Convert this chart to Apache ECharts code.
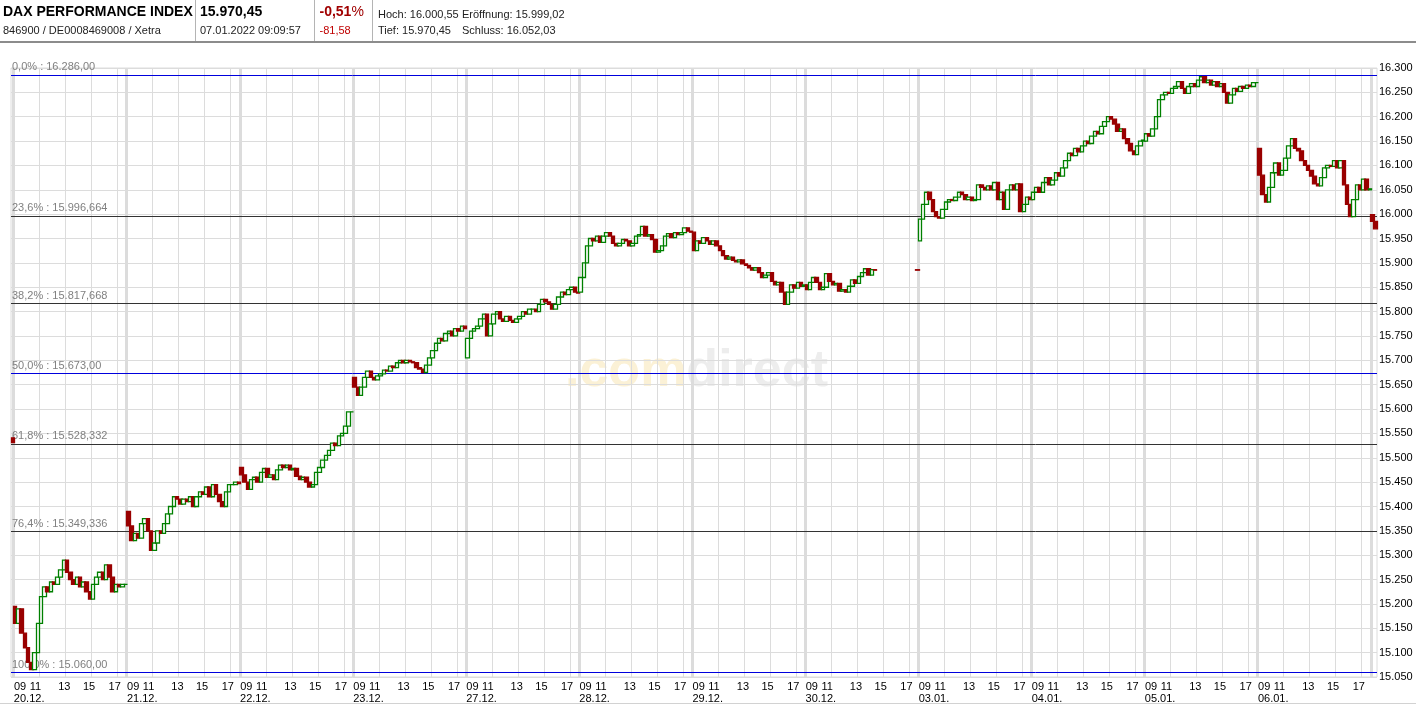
<!DOCTYPE html>
<html><head><meta charset="utf-8">
<script src="https://cdn.jsdelivr.net/npm/echarts@6/dist/echarts.min.js"></script>
<style>html,body{margin:0;padding:0;background:#fff}#c{width:1416px;height:705px}</style>
</head><body><div id="c"></div>
<script>
// ---------- data ----------
const dayLabels = ['20.12.','21.12.','22.12.','23.12.','27.12.','28.12.','29.12.','30.12.','03.01.','04.01.','05.01.','06.01.','07.01.'];
const hourLabels = ['09','11','13','15','17'];
const hourGrid = [2, 4, 6, 8];            // hours after 09:00 with a grid line
const yMin = 15050, yMax = 16300, yStep = 50;

// opening value of the first 15-minute candle of each day
const dayOpens = [15195,15390,15480,15665,15705,15840,15963,15855,15945,16030,16150,16135,15999];
// closes of consecutive 15-minute candles, from 09:00
const closes_20_12 = [15160,15190,15140,15110,15080,15065,15100,15160,15215,15235,15225,15245,15240,15255,15270,15290,15265,15250,15240,15255,15235,15245,15225,15210,15240,15255,15265,15250,15280,15255,15225,15240,15235,15240,15240];
const closes_21_12 = [15360,15330,15345,15335,15365,15375,15350,15310,15325,15350,15345,15365,15385,15400,15420,15415,15405,15415,15410,15420,15400,15420,15430,15425,15440,15420,15445,15425,15410,15400,15430,15445,15445,15450,15447];
const closes_22_12 = [15465,15450,15435,15455,15460,15450,15470,15478,15460,15465,15455,15475,15485,15480,15485,15475,15478,15462,15455,15460,15450,15440,15445,15470,15480,15495,15505,15515,15530,15525,15545,15550,15565,15594,15594];
const closes_23_12 = [15645,15628,15645,15665,15678,15665,15660,15668,15672,15680,15678,15688,15685,15695,15700,15695,15700,15697,15695,15685,15682,15675,15690,15705,15720,15735,15745,15740,15755,15760,15750,15765,15760,15770,15765];
const closes_27_12 = [15745,15760,15765,15770,15785,15795,15750,15775,15795,15800,15785,15780,15790,15782,15778,15785,15790,15800,15795,15805,15805,15800,15815,15825,15820,15815,15805,15815,15830,15840,15835,15845,15850,15840,15838];
const closes_28_12 = [15870,15900,15935,15950,15945,15955,15942,15955,15962,15955,15940,15935,15940,15948,15945,15935,15940,15955,15958,15975,15955,15958,15948,15922,15925,15935,15955,15960,15952,15962,15958,15962,15972,15965,15963];
const closes_29_12 = [15925,15945,15940,15952,15945,15938,15945,15935,15925,15915,15908,15912,15905,15902,15906,15898,15895,15890,15885,15890,15880,15870,15875,15880,15862,15855,15860,15840,15815,15840,15855,15848,15860,15852,15855];
const closes_30_12 = [15845,15860,15870,15860,15845,15850,15878,15862,15855,15858,15842,15845,15840,15852,15865,15858,15872,15880,15888,15875,15886,15885];
const closes_03_01 = [15990,16020,16045,16030,16005,15995,15992,16010,16025,16030,16028,16035,16045,16040,16030,16035,16028,16030,16060,16055,16050,16058,16050,16065,16030,16045,16010,16050,16060,16050,16062,16005,16020,16035,16030];
const closes_04_01 = [16045,16055,16045,16065,16075,16060,16070,16085,16078,16095,16110,16125,16120,16135,16128,16140,16150,16145,16160,16170,16165,16180,16190,16200,16195,16185,16170,16175,16155,16145,16130,16122,16140,16150,16152];
const closes_05_01 = [16165,16160,16175,16200,16235,16245,16250,16248,16258,16262,16272,16258,16248,16262,16268,16262,16275,16282,16270,16275,16265,16272,16262,16268,16250,16228,16245,16258,16252,16262,16258,16265,16262,16270,16270];
const closes_06_01 = [16080,16040,16025,16055,16085,16105,16080,16090,16115,16140,16155,16135,16130,16110,16100,16090,16078,16062,16058,16075,16095,16100,16098,16110,16095,16110,16060,16020,15995,16030,16060,16050,16072,16050,16052];
const closes_07_01 = [15985,15970];
// single pre-opening quotes: [day index, open, close]
const preOpenTicks = [[0, 15541, 15531], [8, 15886, 15885]];

// Fibonacci retracement levels
const fibPct   = ['0,0%','23,6%','38,2%','50,0%','61,8%','76,4%','100,0%'];
const fibValue = [16286.00, 15996.664, 15817.668, 15673.00, 15528.332, 15349.336, 15060.00];
const fibText  = ['16.286,00','15.996,664','15.817,668','15.673,00','15.528,332','15.349,336','15.060,00'];
const fibMain  = [true, false, false, true, false, false, true];

// header
const title = 'DAX PERFORMANCE INDEX';
const ids = '846900 / DE0008469008 / Xetra';
const lastPrice = '15.970,45';
const stamp = '07.01.2022 09:09:57';
const changePct = '-0,51';
const changeAbs = '-81,58';
const stats = [['Hoch: 16.000,55','Eröffnung: 15.999,02'],['Tief: 15.970,45','Schluss: 16.052,03']];

// ---------- build ----------
const DAY = 8.7, SLOT = 0.25;
const dayCloses = [closes_20_12,closes_21_12,closes_22_12,closes_23_12,closes_27_12,closes_28_12,closes_29_12,closes_30_12,closes_03_01,closes_04_01,closes_05_01,closes_06_01,closes_07_01];
const candles = [];
preOpenTicks.forEach(([d,o,c]) => candles.push([d*DAY - 0.05, o, c, Math.min(o,c), Math.max(o,c)]));
dayCloses.forEach((arr, d) => {
  let o = dayOpens[d];
  arr.forEach((c, i) => { candles.push([d*DAY + i*SLOT + SLOT/2, o, c, Math.min(o,c), Math.max(o,c)]); o = c; });
});
candles.sort((a,b) => a[0]-b[0]);

const hourLabelShift = [0.5, 1.68, 3.9, 5.8, 7.78];
const hourVals = [], hourMap = {};
for (let d = 0; d < 12; d++) hourLabels.forEach((t, k) => { const v = +(d*DAY + hourLabelShift[k]).toFixed(3); hourVals.push(v); hourMap[v.toFixed(3)] = t; });
const dayVals = [], dayMap = {};
dayLabels.slice(0, 12).forEach((t, d) => { const v = +(d*DAY + 0.02).toFixed(3); dayVals.push(v); dayMap[v.toFixed(3)] = t; });
const gridVals = [];
for (let d = 0; d < 12; d++) hourGrid.forEach(h => gridVals.push(d*DAY + h));
const bandVals = dayLabels.map((t, d) => d*DAY);

const FONT = 'Arial, "Liberation Sans", sans-serif';
const fmtThousands = v => String(v).replace(/\B(?=(\d{3})+(?!\d))/g, '.');
const xMin = -0.2, xMax = 104.88;

const txt = (text, x, y, font, fill) => ({type:'text', x, y, silent:true, style:{text, font, fill, verticalAlign:'middle', textVerticalAlign:'middle'}});

const fibSeries = (main, color) => ({type:'line', data:[], silent:true, z:4, markLine:{silent:true, symbol:'none', animation:false,
  lineStyle:{color, width:1, type:'solid'},
  label:{show:true, position:'insideStartTop', distance:[1,2], fontSize:11, fontFamily:FONT, color:'#808080'},
  data: fibValue.map((v, k) => ({v, k})).filter(o => fibMain[o.k] === main)
    .map(o => ({yAxis:o.v, label:{formatter: fibPct[o.k] + ' : ' + fibText[o.k]}}))}});

const chart = echarts.init(document.getElementById('c'), null, {renderer:'canvas'});
chart.setOption({
  animation: false,
  backgroundColor: '#fff',
  grid: {left: 11, right: 39, top: 68, bottom: 28, show: true, borderColor: '#dcdcdc', borderWidth: 1},
  xAxis: [
    {type:'value', min:xMin, max:xMax, position:'bottom', axisLine:{show:false}, axisTick:{show:false}, splitLine:{show:false},
     axisLabel:{customValues: hourVals, hideOverlap:false, showMinLabel:true, showMaxLabel:true, margin:4, fontSize:11, fontFamily:FONT, color:'#000',
       formatter: v => hourMap[(+v).toFixed(3)] || ''}},
    {type:'value', min:xMin, max:xMax, position:'bottom', axisLine:{show:false}, axisTick:{show:false}, splitLine:{show:false},
     axisLabel:{customValues: dayVals, hideOverlap:false, margin:16, fontSize:11, fontFamily:FONT, color:'#000', align:'left',
       formatter: v => dayMap[(+v).toFixed(3)] || ''}}
  ],
  yAxis: {type:'value', position:'right', min:yMin, max:yMax, interval:yStep, axisLine:{show:false}, axisTick:{show:false},
    splitLine:{lineStyle:{color:'#dcdcdc', width:1}},
    axisLabel:{margin:2, fontSize:11, fontFamily:FONT, color:'#000', formatter: fmtThousands}},
  graphic: [
    {type:'rect', shape:{x:0, y:41, width:1416, height:2}, style:{fill:'#8c8c8c'}, silent:true},
    {type:'rect', shape:{x:0, y:703, width:1416, height:1}, style:{fill:'#d2d2d2'}, silent:true},
    {type:'rect', shape:{x:195, y:0, width:1, height:41}, style:{fill:'#b4b4b4'}, silent:true},
    {type:'rect', shape:{x:314, y:0, width:1, height:41}, style:{fill:'#b4b4b4'}, silent:true},
    {type:'rect', shape:{x:372, y:0, width:1, height:41}, style:{fill:'#b4b4b4'}, silent:true},
    txt(title, 3, 12.5, 'bold 14px ' + FONT, '#000'),
    txt(ids, 3, 30.5, '11px ' + FONT, '#222'),
    txt(lastPrice, 200, 12.5, 'bold 14px ' + FONT, '#000'),
    txt(stamp, 200, 30.5, '11px ' + FONT, '#222'),
    txt(changePct, 319.5, 12.5, 'bold 14px ' + FONT, '#a00000'),
    txt('%', 351.5, 12.5, '14px ' + FONT, '#a00000'),
    txt(changeAbs, 319.5, 30.5, '11px ' + FONT, '#c00000'),
    txt(stats[0][0], 378, 14.5, '11px ' + FONT, '#222'),
    txt(stats[0][1], 462, 14.5, '11px ' + FONT, '#222'),
    txt(stats[1][0], 378, 30.5, '11px ' + FONT, '#222'),
    txt(stats[1][1], 462, 30.5, '11px ' + FONT, '#222'),
    {type:'text', x:565, y:372, z:-1, silent:true, style:{text:'{a|.com}{b|direct}', verticalAlign:'middle', textVerticalAlign:'middle',
      rich:{a:{font:'bold 52px ' + FONT, fill:'#fbf1d6', color:'#fbf1d6'}, b:{font:'bold 52px ' + FONT, fill:'#ededed', color:'#ededed'}}}}
  ],
  series: [
    {type:'line', data:[], silent:true, z:1, markLine:{silent:true, symbol:'none', animation:false, label:{show:false},
      lineStyle:{color:'#dcdcdc', width:1, type:'solid'}, data: gridVals.map(v => ({xAxis:v}))}},
    {type:'line', data:[], silent:true, z:1, markLine:{silent:true, symbol:'none', animation:false, label:{show:false},
      lineStyle:{color:'#dcdcdc', width:3, type:'solid'}, data: bandVals.map(v => ({xAxis:v}))}},
    fibSeries(false, '#333333'),
    fibSeries(true, '#0000dd'),
    {type:'candlestick', name:'DAX', z:5, barWidth:4,
      dimensions:['t','open','close','lowest','highest'], encode:{x:'t', y:['open','close','lowest','highest']},
      itemStyle:{color:'#ffffff', color0:'#990000', borderColor:'#008000', borderColor0:'#990000', borderWidth:1.3},
      data: candles}
  ]
});
</script></body></html>
